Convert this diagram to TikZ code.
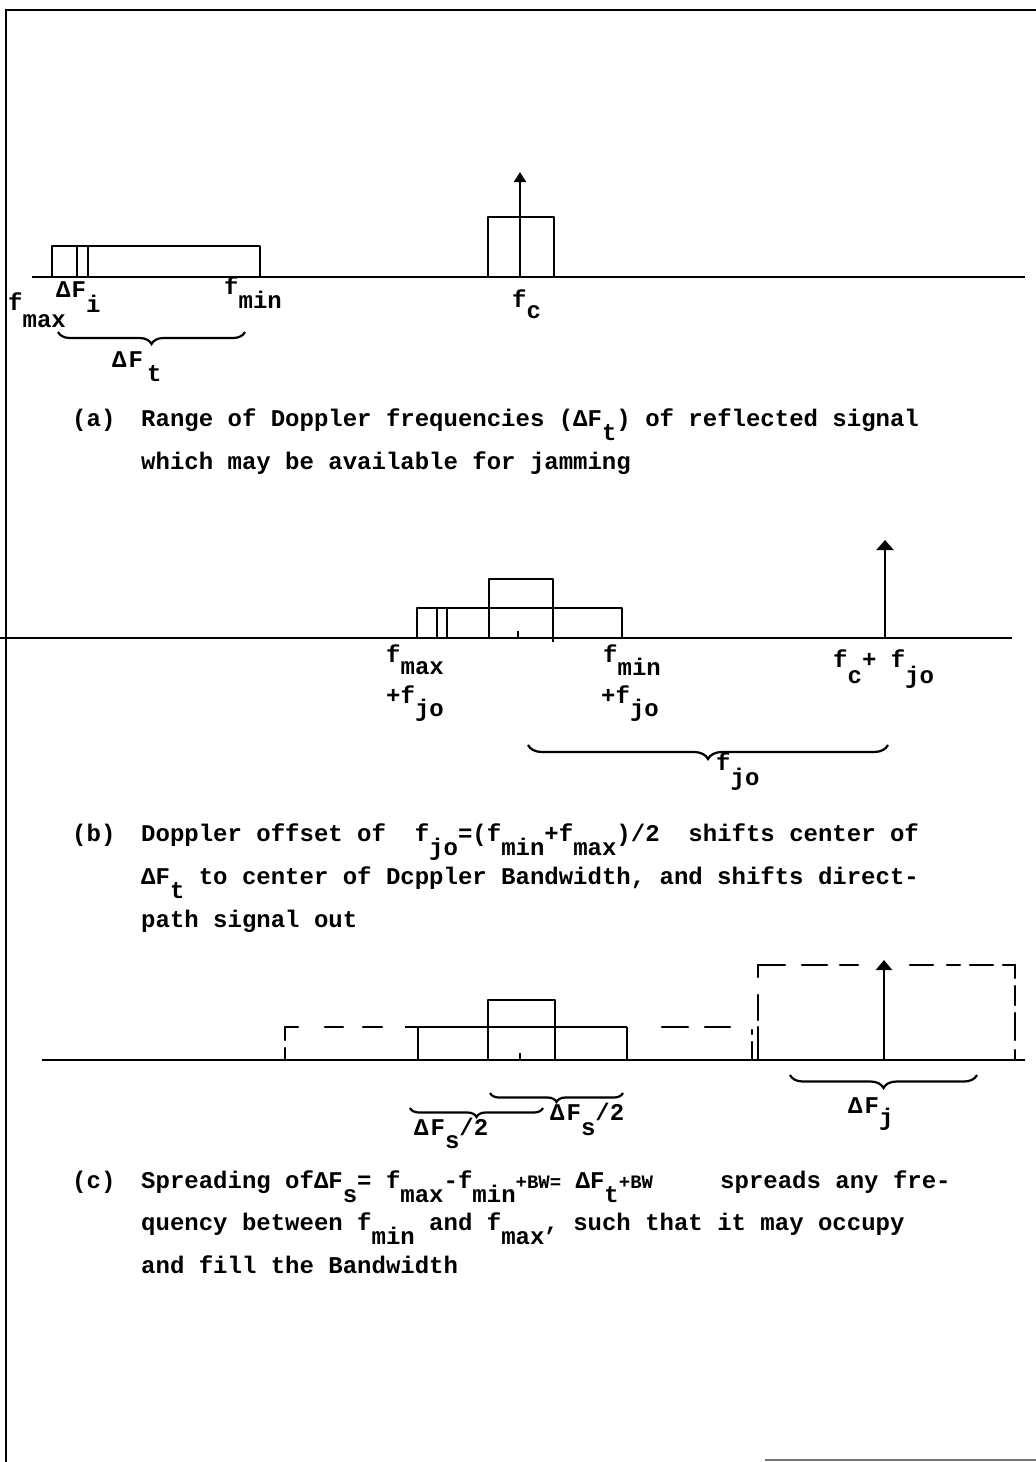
\documentclass[tikz,border=0pt]{standalone}
\usepackage{fontspec}
\setmainfont{Liberation Mono}
\usetikzlibrary{arrows.meta,decorations.pathreplacing}
\newcommand\dn[2][14pt]{\raisebox{-#1}{#2}}
\newcommand\sm[1]{{\fontsize{19}{19}\selectfont #1}}
\tikzset{
  axis/.style={line width=2.8pt},
  box/.style={line width=2.4pt, line join=round},
  dsh/.style={line width=2.4pt, line cap=round},
  tx/.style={anchor=base west, inner sep=0pt, font=\fontsize{24}{43}\selectfont\bfseries},
  brc/.style={decorate, decoration={brace, mirror, amplitude=#1}, line width=2.2pt},
  brc/.default=12pt,
  arr/.style={line width=2.2pt, -{Triangle[width=#1,length=10pt]}},
  arr/.default=14pt,
}
\begin{document}
\begin{tikzpicture}[x=1pt,y=-1pt]
\useasboundingbox (0,0) rectangle (1036,1462);
% frame
\coordinate (fbl) at (6,1462); \coordinate (ftl) at (6,10); \coordinate (ftr) at (1036,10);
\draw[line width=2.4pt] (fbl) -- (ftl) -- (ftr);
\coordinate (fb1) at (765,1460); \coordinate (fb2) at (1036,1460);
\draw[line width=1.6pt, black!55] (fb1) -- (fb2);

% ===================== (a) =====================
\coordinate (a0) at (32,277); \coordinate (a1) at (1025,277);
\draw[axis] (a0) -- (a1);
\draw[box] (52,277) |- (260,246) -- (260,277);
\draw[box] (77,277) -- (77,246);
\draw[box] (88,277) -- (88,246);
\draw[box] (488,277) |- (554,217) -- (554,277);
\coordinate (fcb) at (520,277); \coordinate (fct) at (520,172);
\draw[arr=12pt] (fcb) -- (fct);
\node[tx] (aDFi) at (56,297) {Δ\kern1ptF\dn[15pt]{i}};
\node[tx] (afmax) at (8,310) {f\dn[17pt]{max}};
\node[tx] (afmin) at (224,294) {f\dn[14pt]{min}};
\node[tx] (afc) at (512,307) {f\dn[11pt]{c}};
\coordinate (ab1) at (58,332); \coordinate (ab2) at (245,332);
\draw[brc] (ab1) -- (ab2);
\node[tx] (aDFt) at (112,367) {Δ\kern2ptF\kern4pt\dn{t}};
\node[tx] (capa) at (72,426) {(a)};
\node[tx] (capa1) at (141,426) {Range of Doppler frequencies (ΔF\dn{t}) of reflected signal};
\node[tx] (capa2) at (141,469) {which may be available for jamming};

% ===================== (b) =====================
\coordinate (b0) at (0,638); \coordinate (b1) at (1012,638);
\draw[axis] (b0) -- (b1);
\draw[box] (417,638) |- (622,608) -- (622,638);
\draw[box] (437,638) -- (437,608);
\draw[box] (447,638) -- (447,608);
\draw[box] (489,638) |- (553,579) -- (553,642);
\draw[box] (518,638) -- (518,631);
\coordinate (fjb) at (885,638); \coordinate (fjt) at (885,540);
\draw[arr=17pt] (fjb) -- (fjt);
\node[tx] (bfmax) at (386,662) {f\dn[12pt]{max}};
\node[tx] (bfmaxj) at (386,703) {+f\dn[13pt]{jo}};
\node[tx] (bfmin) at (603,662) {f\dn[13pt]{min}};
\node[tx] (bfminj) at (601,703) {+f\dn[13pt]{jo}};
\node[tx] (bfcj) at (833,667) {f\dn[16pt]{c}+ f\dn[16pt]{jo}};
\coordinate (bb1) at (528,745); \coordinate (bb2) at (888,745);
\draw[brc=14pt] (bb1) -- (bb2);
\node[tx] (bfj) at (716,770) {f\dn[15pt]{jo}};
\node[tx] (capb) at (72,841) {(b)};
\node[tx] (capb1) at (141,841) {Doppler offset of\ \ f\dn{jo}=(f\dn{min}+f\dn{max})/2\ \ shifts center of};
\node[tx] (capb2) at (141,884) {ΔF\dn{t} to center of Dcppler Bandwidth, and shifts direct-};
\node[tx] (capb3) at (141,927) {path signal out};

% ===================== (c) =====================
\coordinate (c0) at (42,1060); \coordinate (c1) at (1025,1060);
\draw[axis] (c0) -- (c1);
% left dashed part
\draw[dsh] (382,1027) -- (363,1027);
\draw[dsh] (343,1027) -- (325,1027);
\draw[dsh] (298,1027) -- (285,1027) -- (285,1040);
\draw[dsh] (285,1048) -- (285,1060);
% solid band
\draw[box] (405,1027) -- (627,1027);
\draw[box] (418,1060) -- (418,1027);
\draw[box] (488,1060) |- (555,1000) -- (555,1060);
\draw[box] (627,1060) -- (627,1027);
\draw[box] (520,1060) -- (520,1053);
% right dashed continuation
\draw[dsh] (662,1027) -- (688,1027);
\draw[dsh] (705,1027) -- (730,1027);
\draw[dsh] (752,1030) -- (752,1034);
\draw[dsh] (752,1042) -- (752,1060);
% big dashed box
\draw[dsh] (758,977) -- (758,965) -- (785,965);
\draw[dsh] (758,995) -- (758,1020);
\draw[dsh] (758,1027) -- (758,1060);
\draw[dsh] (802,965) -- (827,965);
\draw[dsh] (840,965) -- (858,965);
\draw[dsh] (910,965) -- (933,965);
\draw[dsh] (947,965) -- (960,965);
\draw[dsh] (970,965) -- (993,965);
\draw[dsh] (1003,965) -- (1015,965) -- (1015,978);
\draw[dsh] (1015,986) -- (1015,1005);
\draw[dsh] (1015,1013) -- (1015,1040);
\draw[dsh] (1015,1050) -- (1015,1060);
\coordinate (cjb) at (884,1060); \coordinate (cjt) at (884,960);
\draw[arr=16pt] (cjb) -- (cjt);
\coordinate (cb1) at (410,1108); \coordinate (cb2) at (543,1108);
\draw[brc=9pt] (cb1) -- (cb2);
\coordinate (cb3) at (490,1093); \coordinate (cb4) at (623,1093);
\draw[brc=9pt] (cb3) -- (cb4);
\coordinate (cb5) at (790,1075); \coordinate (cb6) at (977,1075);
\draw[brc=13pt] (cb5) -- (cb6);
\node[tx] (cDFs1) at (414,1135) {Δ\kern2ptF\dn[13pt]{s}/2};
\node[tx] (cDFs2) at (550,1120) {Δ\kern2ptF\dn[15pt]{s}/2};
\node[tx] (cDFj) at (848,1113) {Δ\kern2ptF\dn[12pt]{j}};
\node[tx] (capc) at (72,1188) {(c)};
\node[tx] (capc1) at (141,1188) {Spreading ofΔF\dn{s}= f\dn{max}-f\dn{min}\sm{+BW=} ΔF\dn{t}\sm{+BW}};
\node[tx] (capc1b) at (720,1188) {spreads any fre-};
\node[tx] (capc2) at (141,1230) {quency between f\dn{min} and f\dn{max}, such that it may occupy};
\node[tx] (capc3) at (141,1273) {and fill the Bandwidth};
\end{tikzpicture}
\end{document}
